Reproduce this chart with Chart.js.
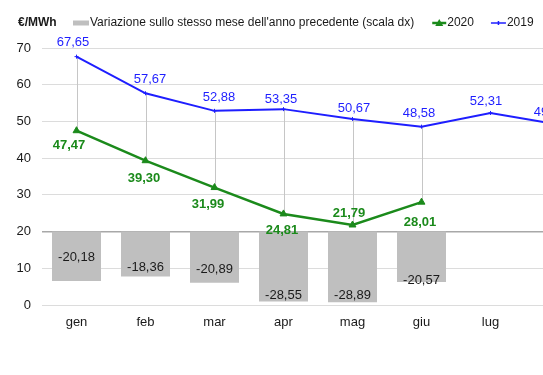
<!DOCTYPE html>
<html>
<head>
<meta charset="utf-8">
<script src="https://cdn.jsdelivr.net/npm/chart.js@4/dist/chart.umd.min.js"></script>
<style>
  body { margin: 0; background: #fff; }
  #wrap { width: 543px; height: 375px; overflow: hidden; }
</style>
</head>
<body>
<div id="wrap"><canvas id="myChart" width="640" height="375"></canvas></div>
<script>
const months = ['gen', 'feb', 'mar', 'apr', 'mag', 'giu', 'lug', 'ago'];
const prices2019 = [67.65, 57.67, 52.88, 53.35, 50.67, 48.58, 52.31, 49.12];
const prices2020 = [47.47, 39.30, 31.99, 24.81, 21.79, 28.01, null, null];
const yoyChange = [-20.18, -18.36, -20.89, -28.55, -28.89, -20.57, null, null];
const leftTicks = [0, 10, 20, 30, 40, 50, 60, 70];

// where the value labels sit (px offsets from the point / bar end)
const shift2019 = [[-3.5, -14], [4.5, -13.5], [4.5, -13], [-2.5, -10], [1.5, -11], [-2.5, -13], [-4.5, -11.5], [-9.5, -12]];
const shift2020 = [[-7.5, 15], [-1.5, 18], [-6.5, 17], [-1.5, 17], [-3.5, -12], [-1.5, 20]];
const shiftBars = [-24, -9.5, -13.7, -6.4, -7.3, -1];

const FONT = "'Liberation Sans', Arial, sans-serif";
const BLUE = '#1e1eff';
const GREEN = '#1b8a1b';
const GREY = '#bfbfbf';

Chart.defaults.font.family = FONT;
Chart.defaults.font.size = 13;
Chart.defaults.color = '#1a1a1a';

const fmt = (v) => v.toFixed(2).replace('.', ',');

// grey drop lines between 2019 and 2020
const dropLines = {
    id: 'dropLines',
    beforeDatasetsDraw(chart) {
        const ctx = chart.ctx;
        const m19 = chart.getDatasetMeta(2);
        const m20 = chart.getDatasetMeta(1);
        ctx.save();
        ctx.strokeStyle = '#c6c6c6';
        ctx.lineWidth = 1;
        prices2020.forEach((v, i) => {
            if (v == null) return;
            const a = m19.data[i], b = m20.data[i];
            ctx.beginPath();
            ctx.moveTo(Math.round(a.x) + 0.5, a.y);
            ctx.lineTo(Math.round(a.x) + 0.5, b.y);
            ctx.stroke();
        });
        ctx.restore();
    }
};

const valueLabels = {
    id: 'valueLabels',
    afterDatasetsDraw(chart) {
        const ctx = chart.ctx;
        ctx.save();
        ctx.textAlign = 'center';
        ctx.textBaseline = 'middle';

        ctx.font = '13px ' + FONT;
        ctx.fillStyle = '#1a1a1a';
        chart.getDatasetMeta(0).data.forEach((bar, i) => {
            if (yoyChange[i] == null) return;
            ctx.fillText(fmt(yoyChange[i]), bar.x, bar.y + shiftBars[i]);
        });

        ctx.fillStyle = BLUE;
        chart.getDatasetMeta(2).data.forEach((p, i) => {
            ctx.fillText(fmt(prices2019[i]), p.x + shift2019[i][0], p.y + shift2019[i][1]);
        });

        ctx.font = 'bold 13px ' + FONT;
        ctx.fillStyle = GREEN;
        chart.getDatasetMeta(1).data.forEach((p, i) => {
            if (prices2020[i] == null) return;
            ctx.fillText(fmt(prices2020[i]), p.x + shift2020[i][0], p.y + shift2020[i][1]);
        });
        ctx.restore();
    }
};

const topLegend = {
    id: 'topLegend',
    afterDraw(chart) {
        const ctx = chart.ctx;
        const y = 23;
        ctx.save();
        ctx.textBaseline = 'middle';
        ctx.fillStyle = '#1a1a1a';
        ctx.font = 'bold 12px ' + FONT;
        ctx.fillText('€/MWh', 18, y);

        ctx.font = '12px ' + FONT;
        let x = 73;
        ctx.fillStyle = GREY;
        ctx.fillRect(x, y - 2.5, 16, 5);
        x += 17;
        const ds = chart.data.datasets;
        ctx.fillStyle = '#1a1a1a';
        ctx.fillText(ds[0].label, x, y);
        x += ctx.measureText(ds[0].label).width + 18;

        // 2020
        ctx.strokeStyle = GREEN;
        ctx.lineWidth = 2.5;
        ctx.beginPath(); ctx.moveTo(x, y); ctx.lineTo(x + 14, y); ctx.stroke();
        ctx.fillStyle = GREEN;
        ctx.beginPath();
        ctx.moveTo(x + 7, y - 4); ctx.lineTo(x + 11, y + 3); ctx.lineTo(x + 3, y + 3);
        ctx.closePath(); ctx.fill();
        x += 15;
        ctx.fillStyle = '#1a1a1a';
        ctx.fillText(ds[1].label, x, y);
        x += ctx.measureText(ds[1].label).width + 17;

        // 2019
        ctx.strokeStyle = BLUE;
        ctx.lineWidth = 1.5;
        ctx.beginPath(); ctx.moveTo(x, y); ctx.lineTo(x + 15, y); ctx.stroke();
        ctx.beginPath(); ctx.moveTo(x + 7.5, y - 2); ctx.lineTo(x + 7.5, y + 2); ctx.stroke();
        x += 16;
        ctx.fillText(ds[2].label, x, y);
        ctx.restore();
    }
};

const data = {
    labels: months,
    datasets: [{
        type: 'bar',
        label: "Variazione sullo stesso mese dell'anno precedente (scala dx)",
        data: yoyChange,
        yAxisID: 'y1',
        backgroundColor: GREY,
        barPercentage: 0.71,
        categoryPercentage: 1.0,
        order: 3
    }, {
        type: 'line',
        label: '2020',
        data: prices2020,
        yAxisID: 'y',
        borderColor: GREEN,
        backgroundColor: GREEN,
        borderWidth: 2.5,
        pointStyle: 'triangle',
        pointRadius: 4,
        pointBorderWidth: 1,
        tension: 0,
        order: 1
    }, {
        type: 'line',
        label: '2019',
        data: prices2019,
        yAxisID: 'y',
        borderColor: BLUE,
        backgroundColor: BLUE,
        borderWidth: 2,
        pointStyle: 'cross',
        pointRadius: 2,
        pointBorderWidth: 1,
        tension: 0,
        order: 2
    }]
};

const config = {
    type: 'bar',
    data: data,
    options: {
        responsive: false,
        animation: false,
        layout: { padding: { top: 48, right: 46, left: 0, bottom: 0 } },
        plugins: {
            legend: { display: false },
            tooltip: { enabled: false }
        },
        scales: {
            x: {
                grid: { display: false, drawTicks: false },
                border: { display: false },
                ticks: { padding: 10, color: '#1a1a1a', font: { size: 13 } },
                afterFit: (s) => { s.height = 70; }
            },
            y: {
                position: 'left',
                min: 0,
                max: 70,
                afterBuildTicks: (s) => { s.ticks = leftTicks.map(v => ({ value: v })); },
                grid: {
                    drawTicks: false,
                    color: (c) => c.tick && c.tick.value === 20 ? '#a8a8a8' : '#dcdcdc',
                    lineWidth: (c) => c.tick && c.tick.value === 20 ? 1.5 : 1
                },
                border: { display: false },
                ticks: { padding: 11, color: '#1a1a1a', font: { size: 13 } },
                afterFit: (s) => { s.width = 42; }
            },
            y1: {
                display: false,
                min: -30,
                max: 75
            }
        }
    },
    plugins: [dropLines, valueLabels, topLegend]
};

const myChart = new Chart(document.getElementById('myChart'), config);
</script>
</body>
</html>
